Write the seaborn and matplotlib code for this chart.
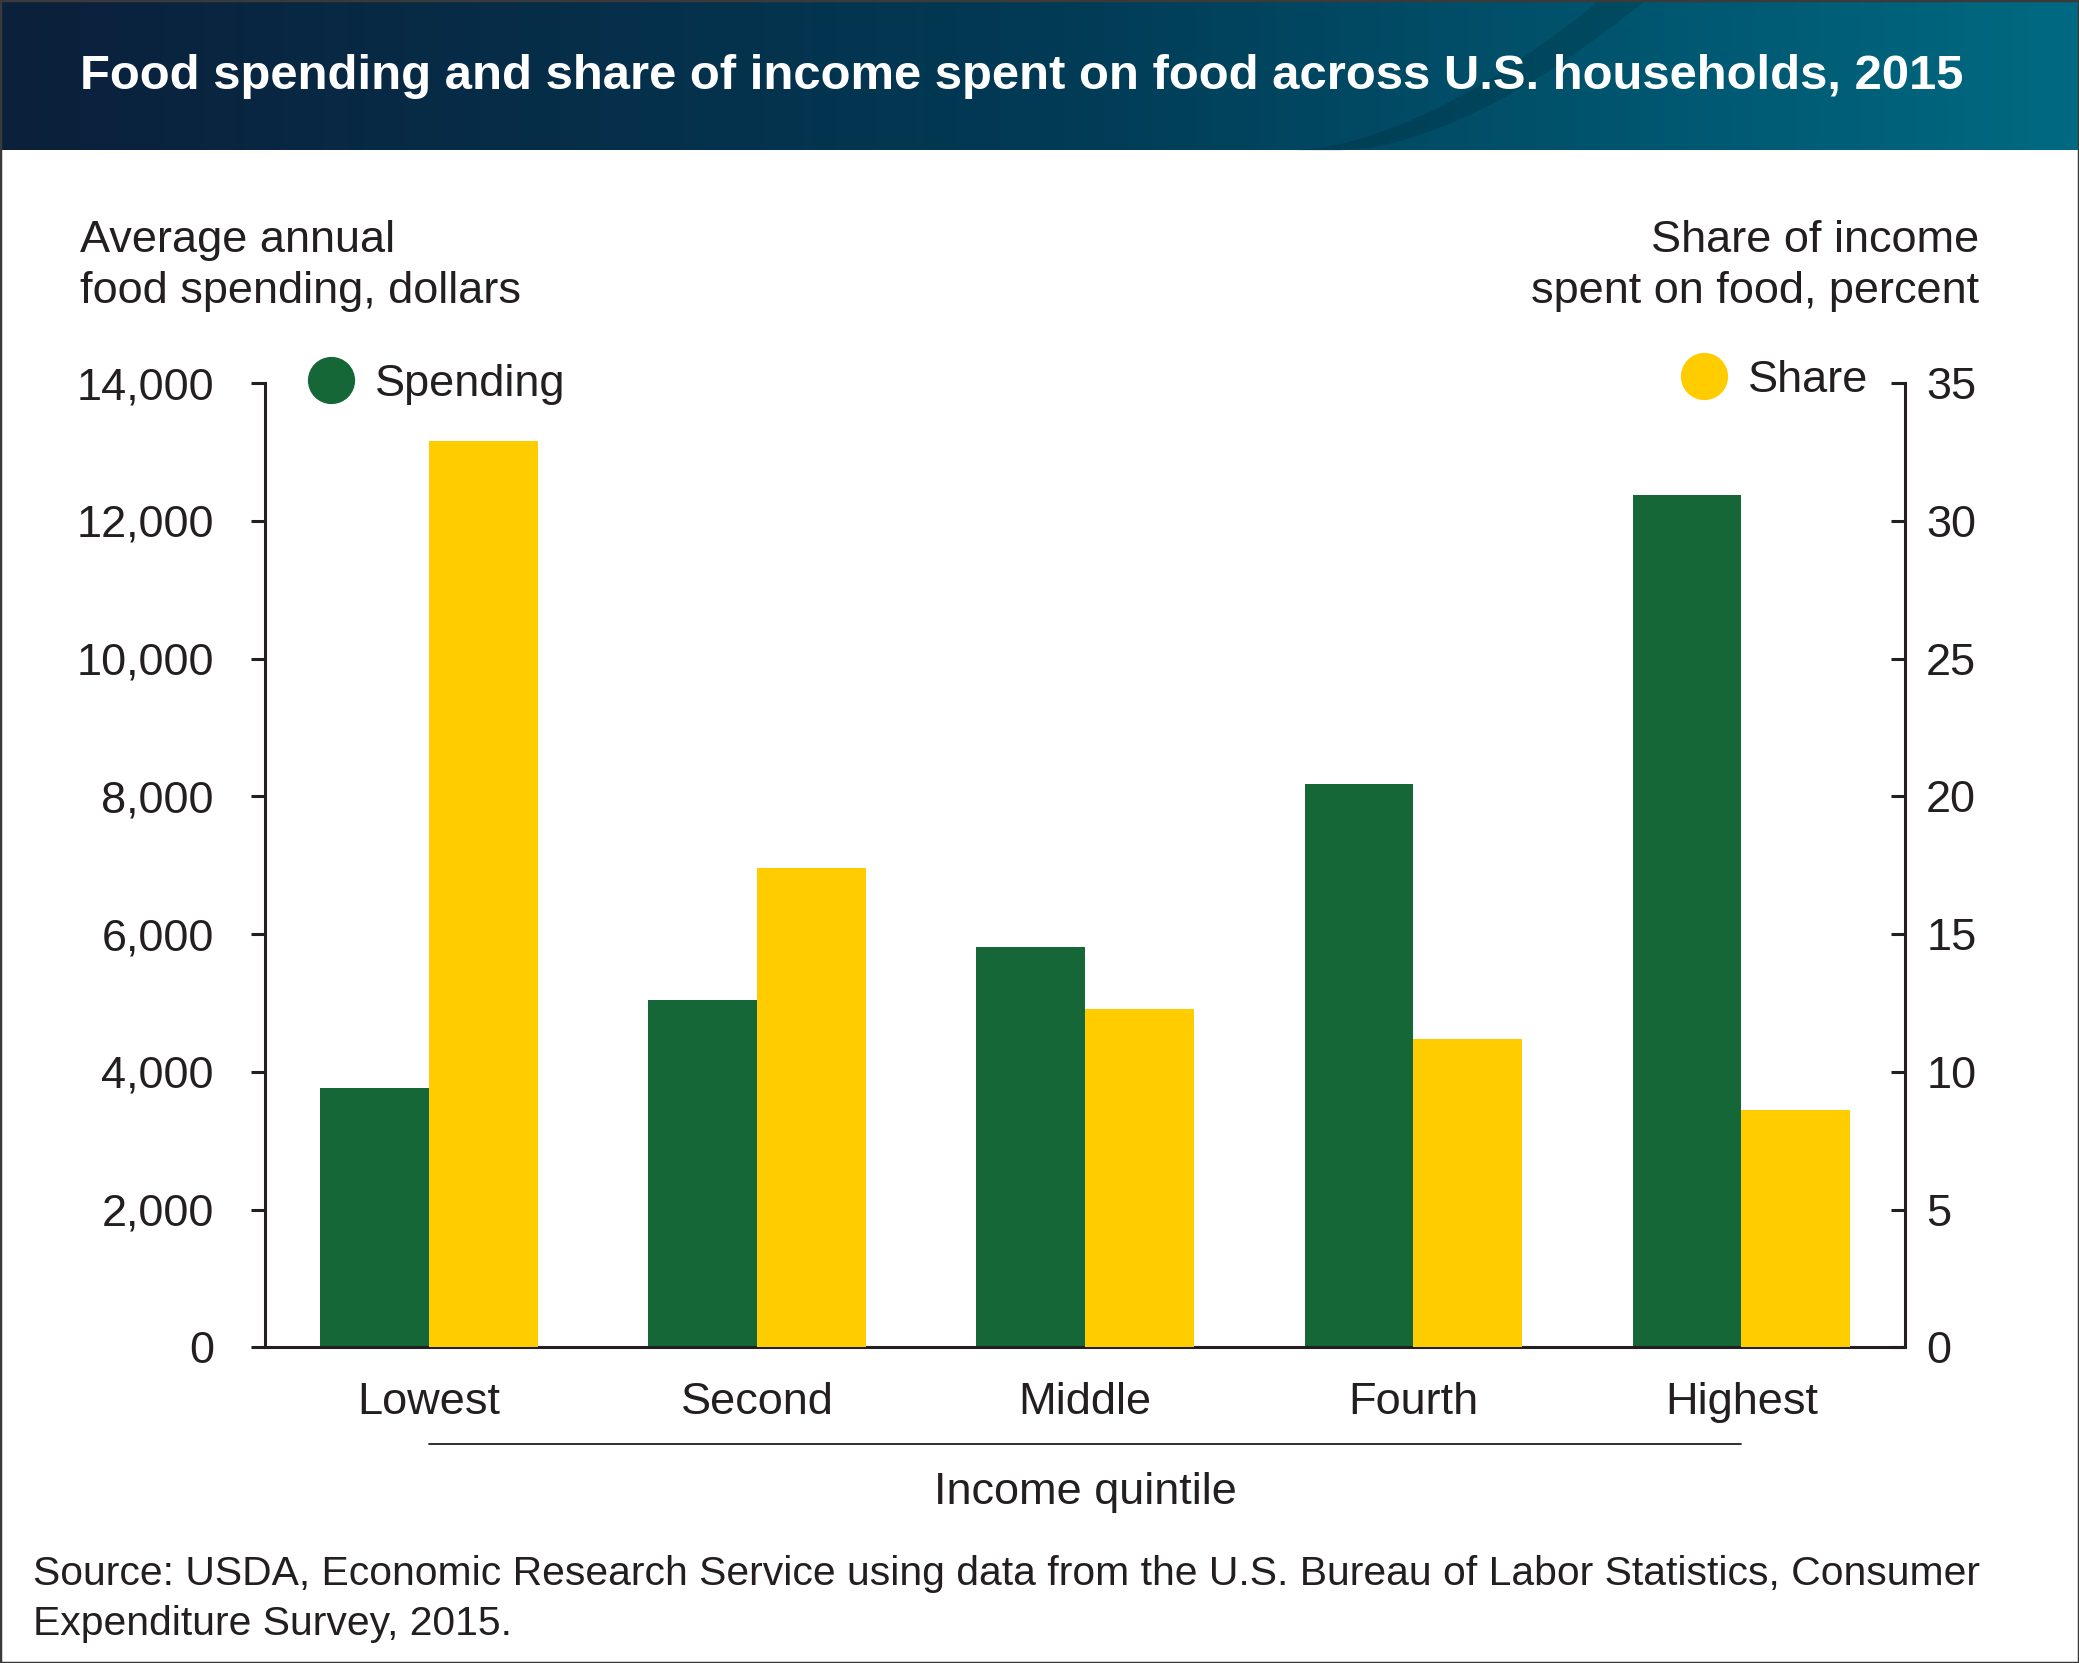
import numpy as np
import pandas as pd
import matplotlib
matplotlib.use("Agg")
from matplotlib import pyplot as plt
from matplotlib.colors import LinearSegmentedColormap
from matplotlib.lines import Line2D
from matplotlib.patches import Rectangle
import matplotlib.transforms as mtransforms
import seaborn as sns

# data
quintiles = ["Lowest", "Second", "Middle", "Fourth", "Highest"]
spending = [3767, 5040, 5810, 8180, 12375]
share = [32.9, 17.4, 12.3, 11.2, 8.6]
spend_ticks = [0, 2000, 4000, 6000, 8000, 10000, 12000, 14000]
share_ticks = [0, 5, 10, 15, 20, 25, 30, 35]

GREEN = "#166738"
YELLOW = "#ffcc00"
TXT = "#231f20"
FS = 32.5

sns.set_theme(style="ticks")
plt.rcParams['font.family'] = ['Liberation Sans', 'DejaVu Sans']
plt.rcParams['text.color'] = TXT

df_spend = pd.DataFrame({"quintile": quintiles, "value": spending, "series": "Spending"})
df_share = pd.DataFrame({"quintile": quintiles, "value": share, "series": "Share"})
hue_order = ["Spending", "Share"]
pal = {"Spending": GREEN, "Share": YELLOW}

fig = plt.figure(figsize=(20.79, 16.63), dpi=100)

# header band with gradient
hdr_h = 0.0903
hax = fig.add_axes([0, 1 - hdr_h, 1, hdr_h])
cmap = LinearSegmentedColormap.from_list("hdr", ["#0b203b", "#023a55", "#006a82"])
grad = np.linspace(0, 1, 512).reshape(1, -1)
hax.imshow(grad, aspect="auto", cmap=cmap, extent=[0, 1, 0, 1])
yy = np.linspace(0, 1, 50)
hax.fill_betweenx(yy, 0.622 + 0.147 * yy ** 0.6, 0.645 + 0.146 * yy ** 0.6,
                  color="black", alpha=0.12, lw=0)
hax.set_xlim(0, 1)
hax.set_ylim(0, 1)
hax.axis("off")
fig.text(0.0383, 0.9537, "Food spending and share of income spent on food across U.S. households, 2015",
         color="white", fontsize=35.3, fontweight="bold", ha="left", va="center")

ax = fig.add_axes([0.12755, 0.18979, 0.7889, 0.57975])
ax2 = ax.twinx()

sns.barplot(data=df_spend, x="quintile", y="value", hue="series", hue_order=hue_order,
            order=quintiles, palette=pal, width=0.663, saturation=1, linewidth=0,
            dodge=True, legend=False, ax=ax)
sns.barplot(data=df_share, x="quintile", y="value", hue="series", hue_order=hue_order,
            order=quintiles, palette=pal, width=0.663, saturation=1, linewidth=0,
            dodge=True, legend=False, ax=ax2)

ax.set_xlim(-0.5, 4.5)
ax.set_ylim(0, 14000)
ax2.set_ylim(0, 35)
ax.set_yticks(spend_ticks)
ax.set_yticklabels([f"{v:,}" for v in spend_ticks])
ax2.set_yticks(share_ticks)
ax2.set_yticklabels([str(v) for v in share_ticks])
ax.set_xlabel("")
ax.set_ylabel("")
ax2.set_ylabel("")
ax2.set_xlabel("")

for a in (ax, ax2):
    for s in a.spines.values():
        s.set_visible(False)
    a.grid(False)
ax.spines["left"].set_visible(True)
ax.spines["bottom"].set_visible(True)
ax2.spines["right"].set_visible(True)
for s in (ax.spines["left"], ax.spines["bottom"], ax2.spines["right"]):
    s.set_color(TXT)
    s.set_linewidth(2.2)

ax.tick_params(axis="y", direction="out", length=10, width=2.2, color=TXT,
               pad=27, labelsize=FS, labelcolor=TXT)
ax2.tick_params(axis="y", direction="in", length=10, width=2.2, color=TXT,
                pad=15, labelsize=FS, labelcolor=TXT)
ax.tick_params(axis="x", length=0, pad=25, labelsize=FS, labelcolor=TXT)

# underline and x-axis title
blend = mtransforms.blended_transform_factory(ax.transData, ax.transAxes)
ax.plot([0, 4], [-0.1004, -0.1004], transform=blend, clip_on=False, color=TXT, lw=1.3)
ax.text(2, -0.1505, "Income quintile", transform=blend, ha="center", va="center",
        fontsize=FS, color=TXT)

# axis titles
fig.text(0.0383, 0.8401, "Average annual\nfood spending, dollars", ha="left", va="center",
         fontsize=FS, linespacing=1.32, color=TXT)
fig.text(0.9522, 0.8401, "Share of income\nspent on food, percent", ha="right", va="center",
         fontsize=FS, linespacing=1.32, color=TXT, multialignment="right")

# legends
h1 = Line2D([], [], marker="o", ls="", color=GREEN, markersize=34, markeredgewidth=0)
h2 = Line2D([], [], marker="o", ls="", color=YELLOW, markersize=34, markeredgewidth=0)
leg1 = ax.legend([h1], ["Spending"], loc="center left", bbox_to_anchor=(0.1479, 0.7687),
                 bbox_transform=fig.transFigure, frameon=False, fontsize=FS,
                 handlelength=1.05, handletextpad=0.45, borderpad=0, borderaxespad=0)
for t in leg1.get_texts():
    t.set_color(TXT)
leg2 = ax2.legend([h2], ["Share"], loc="center left", bbox_to_anchor=(0.8083, 0.7711),
                  bbox_transform=fig.transFigure, frameon=False, fontsize=FS,
                  handlelength=1.05, handletextpad=0.45, borderpad=0, borderaxespad=0)
for t in leg2.get_texts():
    t.set_color(TXT)

# source note
fig.text(0.016, 0.0383, "Source: USDA, Economic Research Service using data from the U.S. Bureau of Labor Statistics, Consumer\nExpenditure Survey, 2015.",
         ha="left", va="center", fontsize=29.4, linespacing=1.39, color=TXT)

# thin outer border
fig.patches.append(Rectangle((0, 0), 1, 1, transform=fig.transFigure, fill=False,
                             edgecolor="#3a3a3a", lw=2.5, zorder=10))

fig.savefig("out.png", dpi=100)
